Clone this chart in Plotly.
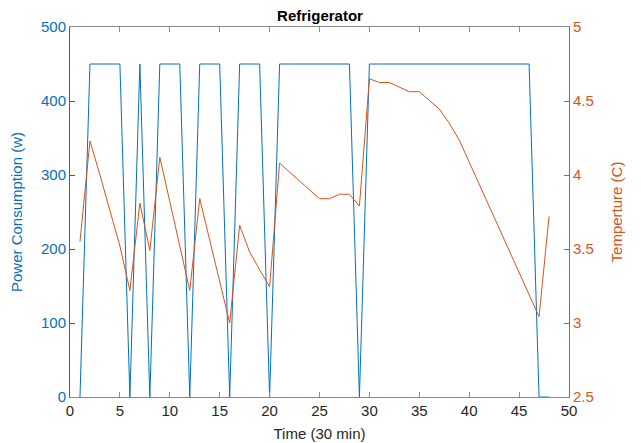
import plotly.graph_objects as go

time = list(range(1, 49))
power = [0, 450, 450, 450, 450, 0, 450, 0, 450, 450, 450, 0, 450, 450, 450, 0,
         450, 450, 450, 0, 450, 450, 450, 450, 450, 450, 450, 450, 0,
         450, 450, 450, 450, 450, 450, 450, 450, 450, 450, 450, 450, 450, 450, 450, 450, 450,
         0, 0]
temperature = [3.55, 4.23, 4.00, 3.76, 3.52, 3.22, 3.81, 3.49, 4.12, 3.82, 3.51, 3.22,
               3.84, 3.56, 3.28, 3.00, 3.66, 3.48, 3.36, 3.245, 4.08, 4.02, 3.96, 3.90,
               3.84, 3.84, 3.87, 3.87, 3.79, 4.65, 4.625, 4.625, 4.595, 4.563, 4.563,
               4.504, 4.446, 4.35, 4.236, 4.087, 3.938, 3.789, 3.640, 3.490, 3.341,
               3.192, 3.043, 3.72]

x_ticks = [0, 5, 10, 15, 20, 25, 30, 35, 40, 45, 50]
y1_ticks = [0, 100, 200, 300, 400, 500]
y2_ticks = [2.5, 3, 3.5, 4, 4.5, 5]
y2_labels = ["2.5", "3", "3.5", "4", "4.5", "5"]

BLUE = "#0072BD"
ORANGE = "#D95319"
GREY = "#8a8a8a"
FONT = "Liberation Sans, Arial, sans-serif"

W, H = 633, 435

fig = go.Figure()
fig.add_trace(go.Scatter(x=time, y=power, mode="lines",
                         line=dict(color=BLUE, width=1), yaxis="y", showlegend=False))
fig.add_trace(go.Scatter(x=time, y=temperature, mode="lines",
                         line=dict(color=ORANGE, width=1), yaxis="y2", showlegend=False))

fig.update_layout(
    width=W, height=H,
    margin=dict(l=62, r=72, t=19, b=46, autoexpand=False),
    paper_bgcolor="white", plot_bgcolor="white",
    font=dict(family=FONT, size=15, color="#262626"),
    title=dict(text="<b>Refrigerator</b>", x=312 / W, xanchor="center",
               y=1, yanchor="top", pad=dict(t=2),
               font=dict(size=15, color="#000000")),
    xaxis=dict(range=[0, 50], tickvals=x_ticks, ticks="inside", ticklen=5,
               tickcolor=GREY, showline=True, linecolor=GREY, linewidth=1,
               mirror="ticks", showgrid=False, zeroline=False, automargin=False,
               tickfont=dict(size=15, color="#262626"),
               title=dict(text="Time (30 min)", font=dict(size=15, color="#262626"), standoff=10)),
    yaxis=dict(range=[0, 500], tickvals=y1_ticks, ticks="inside", ticklen=5,
               tickcolor=BLUE, showline=True, linecolor=BLUE, linewidth=1,
               showgrid=False, zeroline=False, automargin=False,
               tickfont=dict(size=15, color=BLUE),
               title=dict(text="Power Consumption (w)", font=dict(size=15, color=BLUE), standoff=14)),
    yaxis2=dict(range=[2.5, 5], tickvals=y2_ticks, ticktext=y2_labels,
                overlaying="y", side="right", ticks="inside", ticklen=5,
                tickcolor=ORANGE, showline=True, linecolor=ORANGE, linewidth=1,
                showgrid=False, zeroline=False, automargin=False,
                tickfont=dict(size=15, color=ORANGE),
                title=dict(text="Temperture (C)", font=dict(size=15, color=ORANGE), standoff=18)),
)

fig.write_html("out.html")
